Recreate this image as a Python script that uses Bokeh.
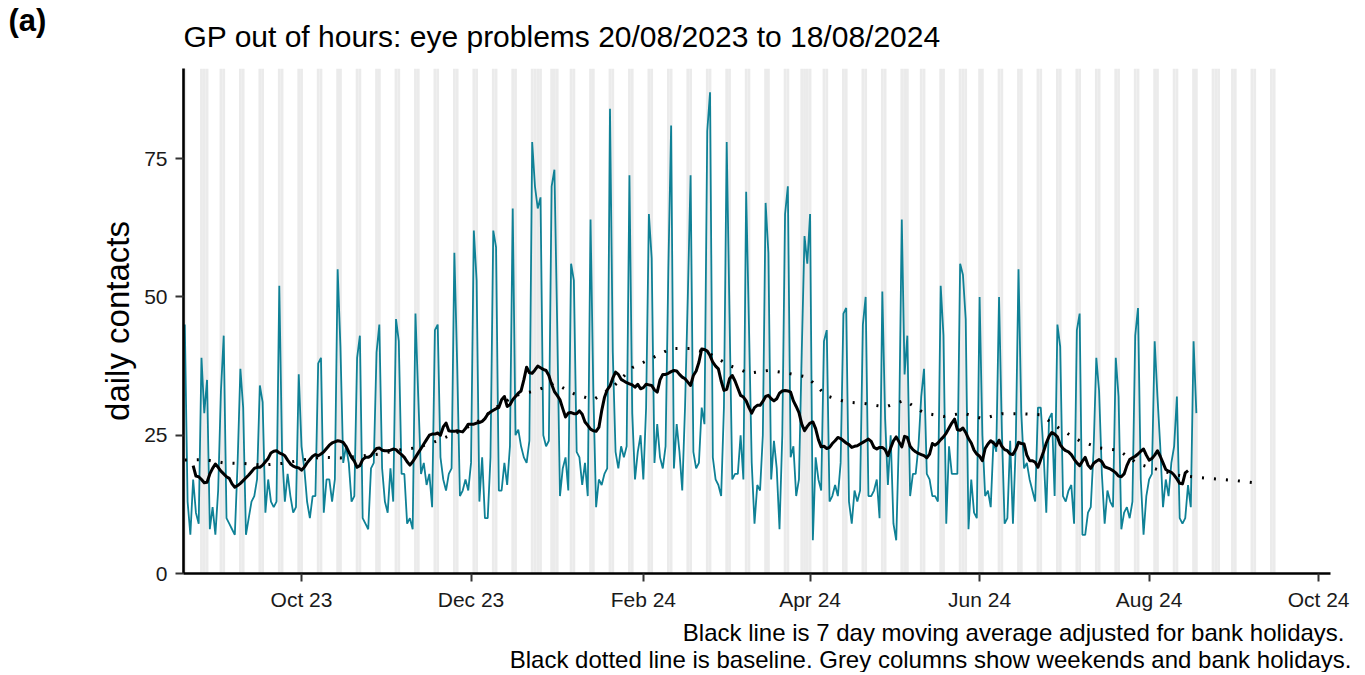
import pandas as pd
from bokeh.plotting import figure
from bokeh.models import Range1d, FixedTicker, Title
from bokeh.embed import file_html
from bokeh.resources import INLINE

# ---------------- data ----------------
start_date = "2023-08-20"
contacts = [
    45,
    13, 7, 17, 11, 9, 39, 29,
    35, 8, 12, 7, 15, 33, 43,
    10, 9, 8, 7, 20, 37, 30,
    7, 10, 13, 14, 17, 34, 31,
    11, 17, 13, 12, 13, 52, 22,
    13, 18, 14, 11, 12, 36, 23,
    19, 13, 10, 14, 14, 38, 39,
    11, 17, 17, 13, 17, 55, 41,
    20, 23, 20, 13, 14, 39, 43,
    10, 9, 8, 19, 20, 40, 45,
    19, 13, 11, 19, 13, 46, 42,
    18, 18, 9, 10, 8, 47, 32,
    18, 20, 16, 18, 12, 44, 45,
    21, 17, 15, 18, 19, 58, 38,
    14, 15, 17, 15, 20, 62, 53,
    13, 21, 10, 10, 21, 62, 59,
    15, 15, 20, 16, 23, 66, 25,
    26, 23, 21, 20, 24, 78, 70,
    66, 68, 25, 23, 24, 70, 73,
    45, 14, 19, 21, 15, 56, 53,
    22, 21, 16, 20, 14, 64, 33,
    12, 17, 16, 18, 19, 84, 40,
    22, 19, 23, 21, 23, 72, 29,
    17, 22, 25, 17, 30, 65, 57,
    20, 27, 21, 19, 23, 55, 81,
    19, 27, 22, 15, 30, 50, 72,
    22, 19, 20, 30, 27, 80, 87,
    21, 17, 16, 14, 30, 78, 47,
    17, 18, 18, 25, 17, 69, 45,
    20, 9, 16, 15, 25, 67, 58,
    17, 24, 19, 8, 25, 65, 70,
    21, 23, 14, 17, 40, 61, 56,
    65, 6, 21, 17, 15, 42, 44,
    13, 14, 16, 14, 20, 47, 48,
    13, 9, 15, 13, 15, 45, 50,
    14, 14, 15, 17, 10, 51, 28,
    16, 25, 9, 6, 25, 64, 36,
    43, 14, 18, 18, 23, 32, 37,
    18, 17, 14, 14, 13, 52, 43,
    9, 23, 18, 18, 18, 56, 54,
    46, 8, 17, 11, 10, 50, 25,
    14, 15, 12, 24, 22, 50, 26,
    9, 10, 24, 9, 23, 55, 29,
    19, 20, 17, 15, 13, 30, 30,
    22, 11, 28, 29, 14, 45, 41,
    14, 13, 15, 16, 9, 44, 47,
    7, 7, 11, 12, 22, 39, 33,
    18, 9, 15, 13, 12, 39, 32,
    8, 11, 12, 10, 13, 43, 48,
    17, 7, 14, 17, 18, 42, 32,
    23, 12, 17, 14, 20, 23, 32,
    10, 9, 10, 16, 12, 42, 29,
]

ma_start_date = "2023-08-23"
moving_avg = [
    19.5, 17.6, 17.5, 17, 16.4, 16.5, 18, 19, 19.8, 19.2, 18.5, 18, 17.5, 17.2, 16.2,
    15.6, 15.9, 16.3, 16.8, 17.3, 17.8, 18.4, 19, 19.2, 19.2, 19.6, 20.2, 20.8, 21.8,
    22.1, 22.2, 21.8, 21.6, 21.3, 20.5, 19.8, 19.4, 19.2,
    19.1, 18.7, 19.2, 20, 20.6, 21.2, 21.5, 21.3, 21.6, 22,
    22.6, 23.2, 23.6, 23.8, 24, 23.9, 23.7, 23, 22, 21,
    20.3, 19.2, 19.5, 20.6, 21, 21, 21.3, 22, 22.6, 22.7,
    22.3, 22.2, 22.2, 22.3, 22.5, 22.4, 21.9, 21.5, 21, 20.2,
    19.6, 20.2, 21, 21.8, 22.6, 23.4, 24.2, 25, 25.2, 25.2,
    25.4, 25, 26.5, 27.2, 25.8, 25.7, 25.7, 25.8, 25.7, 25.6,
    26.2, 27, 27, 27, 27.2, 27.3, 27.5, 28, 28.8, 29.2,
    29.5, 29.8, 30, 31.4, 32, 30.2, 30.5, 31.4, 32, 32.6,
    33, 35, 37.3, 36.3, 36.2, 36.8, 37.5, 37.2, 36.9, 36.7,
    35.8, 34.2, 32.9, 32.2, 31.4, 29.8, 28.3, 29, 29.1, 28.9,
    28.9, 29.4, 28.8, 27.4, 26.8, 26.1, 25.8, 25.7, 26.4, 29.4,
    31.8, 33.2, 33.9, 35.3, 36.4, 36, 35.1, 34.8, 34.5, 34.3,
    34.1, 33.7, 34.2, 33.4, 33.6, 34.2, 34.1, 34, 33.2, 32.8,
    35, 36, 36, 36.2, 36.5, 36.7, 36.6, 36, 35.5, 35.2,
    34.6, 34, 35.8, 36.6, 38.2, 40.6, 40.5, 40.2, 39.4, 38.2,
    37.5, 37, 34.8, 33.1, 33.3, 35.2, 35.8, 34.8, 33.5, 32.2,
    31.9, 31.2, 30, 29, 30, 30.4, 30.4, 31.1, 32, 32.2,
    31.6, 31.2, 31.6, 32.6, 33, 33.1, 33, 32.8, 31.2, 30.2,
    29.1, 27, 25.8, 26.6, 27.2, 27.4, 26.2, 24.2, 22.9, 23,
    22.6, 22.8, 23.5, 24, 24.6, 24.4, 24, 23.6,
    23.3, 22.8, 23, 23.1, 23.4, 23.7, 24, 24.3, 23.9, 22.8,
    22.5, 22.8, 22.8, 22.4, 21.3, 22.7, 24, 24.7, 23.8, 22.9,
    24.8, 24.6, 23, 22.4, 22, 21.7, 21.5, 21.3, 20.9, 21.6,
    23.5, 23.2, 23.6, 24.2, 24.7, 25.4, 26.3, 27.2, 27.9, 26,
    25.9, 26.3, 25.5, 24.4, 23.6, 22.3, 21.6, 21.2, 20.4, 22.6,
    23.4, 24, 23.6, 23.1, 24.1, 23, 22.4, 22.2, 21.6, 21.5,
    22.4, 23.7, 23.5, 23.4, 21.4, 20.4, 20.4, 20.1, 19.2, 20.6,
    22, 23.6, 24.8, 25.5, 25.2, 24.7, 23.3, 22.6, 22.2,
    22, 21.5, 20.7, 20, 19.5, 20.3, 21, 19.6, 19, 19.9,
    20.3, 20.6, 20.2, 19.3, 19.1, 18.9, 18.6, 18.2, 17.6, 17.5,
    18, 19.5, 20.6, 20.9, 21.2, 21.6, 22.1, 22.5, 21.4, 20.5,
    20.8, 21.4, 22.2, 21.2, 20, 18.8, 18.5, 18.3, 17.8, 17.1,
    16.3, 16.2, 18.2, 18.6,
]

baseline_start_date = "2023-08-20"   # weekly values
baseline = [
    20.5, 20.6, 20.0, 19.9, 19.6, 19.9, 20.5, 21.0, 20.9, 21.2,
    21.6, 22.3, 22.8, 24.0, 25.5, 27.3, 30.0, 32.2, 33.0, 34.4,
    32.5, 31.4, 33.7, 37.2, 38.9, 40.7, 40.7, 39.7, 37.6, 36.2,
    36.7, 36.2, 35.5, 32.1, 31.0, 30.7, 30.1, 31.3, 29.0, 28.4,
    29.0, 28.0, 28.9, 28.9, 28.7, 26.1, 24.0, 22.7, 22.3, 19.8,
    18.8, 17.8, 17.4, 17.1, 16.8, 16.4,
]

bank_holidays = ["2023-08-28", "2023-12-25", "2023-12-26", "2024-01-01",
                 "2024-03-29", "2024-04-01", "2024-05-06", "2024-05-27", "2024-08-26"]
shade_end_date = "2024-09-15"

tick_dates = ["2023-10-01", "2023-12-01", "2024-02-01", "2024-04-01",
              "2024-06-01", "2024-08-01", "2024-10-01"]
tick_labels = ["Oct 23", "Dec 23", "Feb 24", "Apr 24", "Jun 24", "Aug 24", "Oct 24"]
y_ticks = [0, 25, 50, 75]

title_text = "GP out of hours: eye problems 20/08/2023 to 18/08/2024"
panel_text = "(a)"
y_label = "daily contacts"
caption_1 = "Black line is 7 day moving average adjusted for bank holidays."
caption_2 = "Black dotted line is baseline. Grey columns show weekends and bank holidays."

# ---------------- derived (day offsets from start) ----------------
origin = pd.Timestamp(start_date)


def day_offsets(first, n, step=1):
    d0 = (pd.Timestamp(first) - origin).days
    return [d0 + step * k for k in range(n)]


x_contacts = day_offsets(start_date, len(contacts))
x_ma = day_offsets(ma_start_date, len(moving_avg))
x_base = day_offsets(baseline_start_date, len(baseline), 7)

all_days = pd.date_range(start_date, shade_end_date, freq="D")
bh = set(pd.to_datetime(bank_holidays))
shade_x = [(d - origin).days for d in all_days if d.dayofweek >= 5 or d in bh]

tick_x = [(pd.Timestamp(t) - origin).days for t in tick_dates]

# ---------------- figure ----------------
X0, X1 = -0.47, 412.27
Y0, Y1 = 0, 91.3
W, H = 1360, 672
ML, MR, MT, MB = 183, 30, 68, 99
FONT = "Liberation Sans"

p = figure(width=W, height=H, output_backend="svg", toolbar_location=None,
           x_range=Range1d(X0, X1), y_range=Range1d(Y0, Y1),
           min_border_left=ML, min_border_right=MR, min_border_top=MT,
           min_border_bottom=MB)
p.outline_line_color = None
p.grid.visible = False
p.background_fill_color = "white"
p.border_fill_color = "white"

p.vbar(x=shade_x, width=1, bottom=Y0, top=Y1, fill_color="#EBEBEB",
       line_color=None)

p.line(x_contacts, contacts, line_color="#0F8196", line_width=1.8)
p.line(x_base, baseline, line_color="black", line_width=3, line_dash="2 10")
p.line(x_ma, moving_avg, line_color="black", line_width=3,
       line_join="round")

for ax in (p.xaxis, p.yaxis):
    ax.axis_line_width = 2.6
    ax.axis_line_color = "black"
    ax.major_tick_line_width = 2
    ax.major_tick_line_color = "#333333"
    ax.major_tick_out = 8
    ax.major_tick_in = 0
    ax.minor_tick_out = 0
    ax.minor_tick_in = 0
    ax.major_label_text_font = FONT
    ax.major_label_text_font_size = "21px"
    ax.major_label_text_color = "#1a1a1a"

p.xaxis.ticker = FixedTicker(ticks=tick_x)
p.xaxis.major_label_overrides = {t: lab for t, lab in zip(tick_x, tick_labels)}
p.xaxis.major_label_standoff = 6
p.yaxis.ticker = FixedTicker(ticks=y_ticks)
p.yaxis.major_label_standoff = 8
p.yaxis.axis_label = y_label
p.yaxis.axis_label_text_font = FONT
p.yaxis.axis_label_text_font_size = "33px"
p.yaxis.axis_label_text_font_style = "normal"
p.yaxis.axis_label_text_color = "black"
p.yaxis.axis_label_standoff = 5

# panel tag "(a)": outermost title panel
p.title.text = panel_text
p.title.align = "left"
p.title.offset = -175
p.title.standoff = -70
p.title.text_font = FONT
p.title.text_font_size = "31px"
p.title.text_font_style = "bold"
p.title.text_color = "black"

# main title: next to the frame
p.add_layout(Title(text=title_text, align="left", offset=0, standoff=31,
                   text_font=FONT, text_font_size="30px",
                   text_font_style="normal", text_color="black"), "above")

# captions (below the x axis)
p.add_layout(Title(text=caption_1, align="right", offset=-14, standoff=6,
                   text_font=FONT, text_font_size="24px",
                   text_font_style="normal", text_color="black"), "below")
p.add_layout(Title(text=caption_2, align="right", offset=-21, standoff=-9,
                   text_font=FONT, text_font_size="24px",
                   text_font_style="normal", text_color="black"), "below")

open("out.html", "w").write(file_html(p, INLINE))
